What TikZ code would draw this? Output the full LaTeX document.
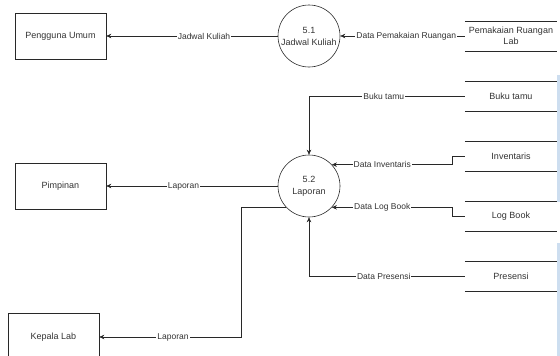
\documentclass[tikz,border=0pt]{standalone}
\usepackage{fontspec}
\setmainfont{Liberation Sans}
\usetikzlibrary{arrows.meta}

\definecolor{linegray}{RGB}{40,40,40}
\definecolor{txtgray}{RGB}{51,51,51}
\definecolor{sidebar}{RGB}{205,222,240}

\begin{document}
\begin{tikzpicture}[x=1pt, y=-1pt, >={Stealth[length=5pt,width=4.5pt]}, node distance=60pt, font=\fontsize{9}{12}\selectfont, text=txtgray]
    \tikzstyle{entity}=[rectangle,draw=linegray,line width=0.6pt,minimum width=91pt,minimum height=46pt,align=center]
    \tikzstyle{proc}=[circle,draw=linegray,line width=0.6pt,minimum size=62pt,inner sep=0pt,align=center]
    \tikzstyle{store}=[rectangle,minimum width=92pt,minimum height=30pt,inner sep=0pt,align=center,font=\fontsize{9}{11}\selectfont]
    \tikzstyle{flow}=[->,draw=linegray,line width=0.6pt]
    \tikzstyle{lbl}=[fill=white,inner sep=1pt,font=\fontsize{8.5}{10}\selectfont]

    \useasboundingbox (0,0) rectangle (560,356);
    % screenshot side bar
    \fill[sidebar] (557,75) rectangle (560,202);
    \fill[sidebar] (557,243) rectangle (560,356);

    \node[entity] (pengguna) at (60.5,36) {Pengguna Umum};
    \node[entity] (pimpinan) at (60.5,186) {Pimpinan};
    \node[entity,minimum height=48pt] (kepala) at (53.5,337) {Kepala Lab};

    \node[proc] (p51) at (309,36) {5.1\\Jadwal Kuliah};
    \node[proc] (p52) at (309,186) {5.2\\Laporan};

    \node[store] (pemakaian) at (511,36) {Pemakaian Ruangan\\Lab};
    \node[store] (buku) at (511,96) {Buku tamu};
    \node[store,below of=buku] (inventaris) {Inventaris};
    \node[store,below of=inventaris] (logbook) {Log Book};
    \node[store,below of=logbook] (presensi) {Presensi};
    \foreach \s in {pemakaian,buku,inventaris,logbook,presensi}
      \draw[linegray,line width=0.6pt] (\s.north west) -- (\s.north east) (\s.south west) -- (\s.south east);

    \coordinate (bend) at (241,337);

    \draw[flow] (pemakaian.west) -- node[lbl,pos=0.47] {Data Pemakaian Ruangan} (p51.east);
    \draw[flow] (p51.west) -- node[lbl,pos=0.43] {Jadwal Kuliah} (pengguna.east);
    \draw[flow] (buku.west) -| node[lbl,pos=0.26] {Buku tamu} (p52.north);
    \draw[flow] (inventaris.west) -- ++(-13,0) |- node[lbl,pos=0.79] {Data Inventaris} (p52.43);
    \draw[flow] (logbook.west) -- ++(-13,0) |- node[lbl,pos=0.79] {Data Log Book} (p52.-43);
    \draw[flow] (presensi.west) -| node[lbl,pos=0.26] {Data Presensi} (p52.south);
    \draw[flow] (p52.west) -- node[lbl,pos=0.55] {Laporan} (pimpinan.east);
    \draw[flow] (p52.223) -- (p52.223 -| bend) |- node[lbl,pos=0.74] {Laporan} (kepala.east);
\end{tikzpicture}
\end{document}
